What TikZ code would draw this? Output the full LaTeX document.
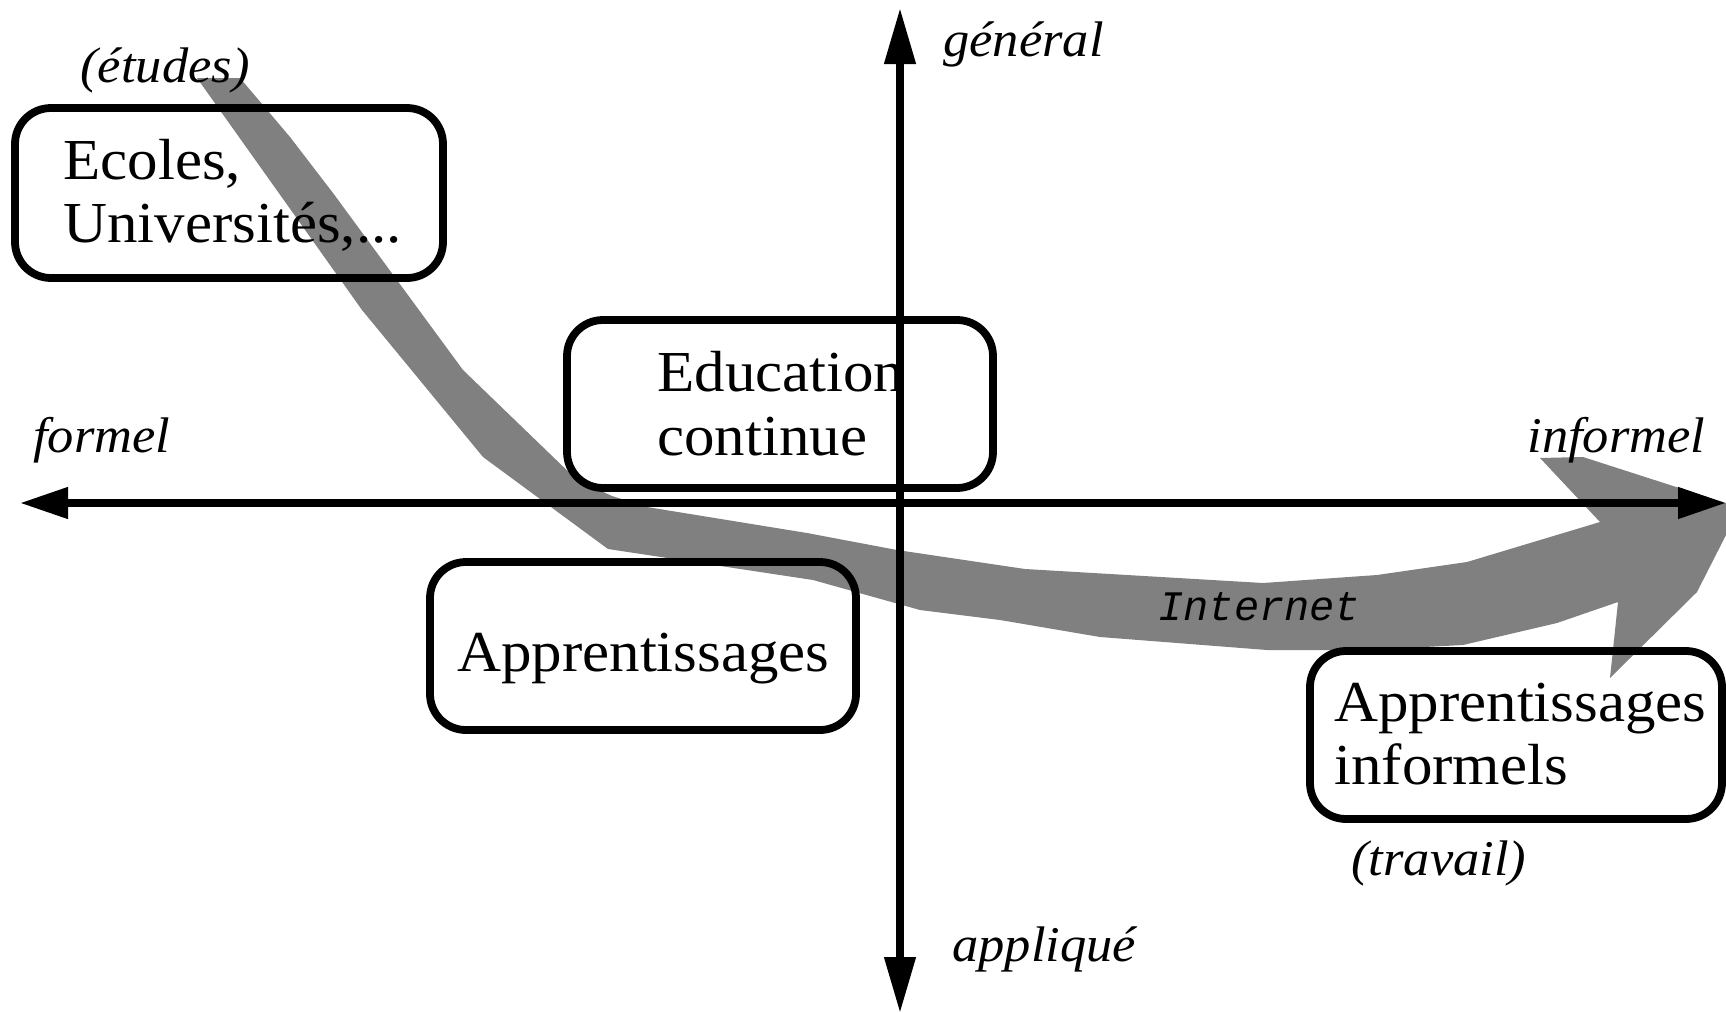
\documentclass[tikz,border=0pt]{standalone}
\usepackage{fontspec}
\setmainfont[FakeStretch=1.05]{Liberation Serif}
\newfontfamily\monofont{Liberation Mono}
\usetikzlibrary{arrows.meta}

\tikzset{
  axis/.style={line width=3.8pt},
  hhead/.style={-{Triangle[length=24pt,width=15pt]}},
  vhead/.style={-{Triangle[length=28pt,width=15pt]}},
  box/.style={draw, line width=3.9pt, rounded corners=18pt,
              minimum width=213pt, minimum height=84pt, inner sep=0pt},
  boxtext/.style={anchor=base west, inner sep=0pt,
                  font=\fontsize{29pt}{32pt}\selectfont},
  pole/.style={anchor=base west, inner sep=0pt,
               font=\fontsize{25pt}{30pt}\selectfont\itshape},
  road/.style={fill=black!50, draw=none},
}

\begin{document}
\begin{tikzpicture}[x=0.5pt, y=-0.5pt]
\useasboundingbox (0,0) rectangle (1726,1013);
\clip (0,0) rectangle (1726,1013);

% broad grey path, from studies to work
\fill[road] (197,78) -- (240,78) -- (290,137) -- (333,193) -- (463,370)
  -- (577,480) -- (612,496) -- (647,507) -- (807,533) -- (897,550)
  -- (1025,569) -- (1263,583) -- (1377,575) -- (1467,562) -- (1600,522)
  -- (1540,458) -- (1583,457) -- (1726,503) -- (1726,535) -- (1697,592)
  -- (1610,678) -- (1618,602) -- (1557,623) -- (1463,645) -- (1367,650)
  -- (1267,650) -- (1100,637) -- (1000,620) -- (920,610) -- (813,580)
  -- (608,549) -- (483,457) -- (362,310) -- cycle;

% rounded boxes
\node[box, minimum width=214pt, minimum height=85pt] (ecoles) at (229,193) {};
\node[box] (educ) at (780,404) {};
\node[box] (appr) at (643,646) {};
\node[box, minimum width=206pt] (inform) at (1516,735) {};

% axes
\coordinate (W) at (20,503);
\coordinate (E) at (1726,503);
\coordinate (N) at (900,8);
\coordinate (S) at (900,1013);
\coordinate (O) at (900,503);
\draw[axis, hhead] (O) -- (W);
\draw[axis, hhead] (O) -- (E);
\draw[axis, vhead] (O) -- (N);
\draw[axis, vhead] (O) -- (S);

% box texts
\node[boxtext] (ecoles1) at (63,179) {Ecoles,};
\node[boxtext] (ecoles2) at (63,242) {Universités,...};
\node[boxtext] (educ1) at (657,391) {Education};
\node[boxtext] (educ2) at (657,455) {continue};
\node[boxtext] (appr1) at (457,671) {Apprentissages};
\node[boxtext] (inform1) at (1334,721) {Apprentissages};
\node[boxtext] (inform2) at (1334,784) {informels};

% pole labels
\node[pole] (etudes) at (80,82) {(études)};
\node[pole] (general) at (943,56) {général};
\node[pole] (formel) at (33,452) {formel};
\node[pole] (informel) at (1527,452) {informel};
\node[pole] (travail) at (1351,875) {(travail)};
\node[pole] (applique) at (952,961) {appliqué};

% label on the path
\node[anchor=base west, inner sep=0pt,
      font=\monofont\itshape\fontsize{21pt}{24pt}\selectfont] (internet) at (1158,620) {Internet};
\end{tikzpicture}
\end{document}
